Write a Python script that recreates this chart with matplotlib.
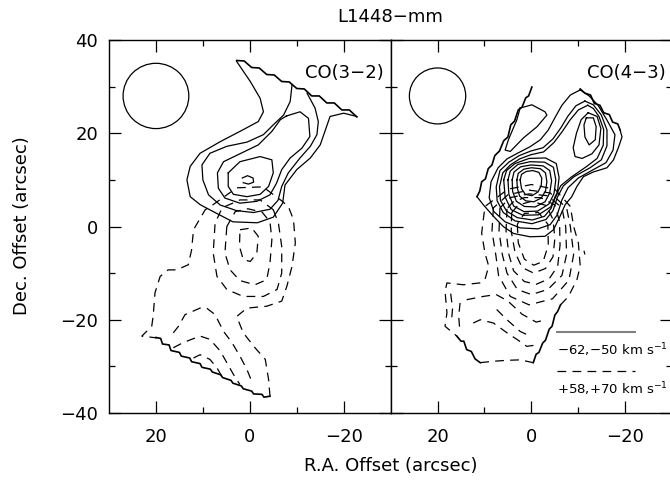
import matplotlib
matplotlib.use("Agg")
import matplotlib.pyplot as plt
from matplotlib.patches import Circle

# contour paths, (RA offset, Dec offset) in arcsec
# ---- CO(3-2), blue lobe (solid)
l_solid = [
    [(2.8, 35.4), (-0.1, 31.1), (-2.2, 27.5), (-2.9, 24.6), (-1.8, 22.5), (2.1, 20.4), (6.3, 18.2),
     (10.6, 15.7), (12.7, 12.9), (13.4, 10.0), (12.7, 6.4), (10.6, 4.7), (7.8, 3.2), (3.6, 1.0),
     (-1.6, 0.8), (-5.0, 2.0), (-7.0, 5.0), (-7.5, 8.9), (-10.0, 12.2), (-12.9, 14.7), (-15.0, 17.5),
     (-16.0, 20.4), (-17.1, 23.6), (-20.0, 24.3), (-22.8, 23.6)],
    [(-9.0, 30.4), (-8.6, 26.8), (-7.2, 23.9), (-5.0, 21.8), (-2.9, 19.7), (0.6, 18.1), (4.9, 17.2),
     (8.5, 15.7), (10.2, 13.2), (10.0, 10.0), (8.8, 6.8), (6.3, 4.6), (2.8, 3.4), (-0.8, 3.0),
     (-4.3, 3.7), (-6.0, 5.6), (-6.8, 8.6), (-8.2, 11.5), (-10.7, 14.7), (-12.9, 17.2), (-14.3, 19.7),
     (-14.6, 22.5), (-13.9, 25.4), (-12.2, 28.6)],
    [(-7.8, 23.7), (-10.7, 24.6), (-12.5, 23.2), (-12.8, 19.3), (-11.1, 16.8), (-8.6, 14.7), (-6.8, 12.2),
     (-5.7, 9.3), (-4.3, 6.8), (-1.5, 5.4), (2.1, 5.0), (5.3, 6.1), (6.7, 8.2), (6.9, 11.5), (5.6, 13.9),
     (2.1, 15.6), (-1.8, 17.5), (-4.7, 20.4), (-6.5, 22.9), (-7.8, 23.7)],
    [(4.6, 11.5), (2.1, 13.9), (-2.2, 15.0), (-4.7, 14.3), (-5.0, 11.5), (-4.0, 8.6), (-2.2, 6.9),
     (0.6, 6.4), (3.5, 6.9), (4.6, 8.6), (4.6, 11.5)],
    [(1.6, 10.4), (0.5, 10.9), (-0.7, 10.4), (-0.8, 9.5), (0.3, 9.1), (1.4, 9.4)],
]
l_edge = [
    [(2.8, 35.6), (1.2, 35.5), (-0.4, 34.1), (-2.0, 34.0), (-3.6, 32.6), (-5.2, 32.5), (-6.8, 31.1),
     (-8.4, 31.0), (-10.0, 29.6), (-11.6, 29.5), (-13.2, 28.0), (-14.8, 28.0), (-16.4, 26.5),
     (-18.0, 26.5), (-19.6, 25.0), (-21.2, 25.0), (-22.8, 23.5)],
    [(20.0, -23.8), (19.0, -24.0), (18.6, -25.2), (17.2, -25.4), (16.8, -26.6), (15.0, -27.0),
     (14.6, -27.8), (12.8, -28.2), (12.4, -29.0), (10.6, -29.4), (10.2, -30.2), (8.4, -30.6),
     (8.0, -31.2), (6.2, -31.8), (5.8, -32.4), (4.0, -33.0), (3.6, -33.6), (1.8, -34.2),
     (1.4, -34.8), (-0.4, -35.3), (-0.8, -35.9), (-2.6, -36.0), (-3.0, -36.6), (-4.3, -36.4)],
]
# ---- CO(3-2), red lobe (dashed)
l_dashed = [
    [(-4.3, -36.4), (-4.0, -32.8), (-3.3, -28.5), (-1.1, -26.0), (1.4, -22.8), (2.8, -19.3), (0.6, -17.5),
     (-3.6, -17.1), (-6.8, -16.0), (-7.9, -12.8), (-9.0, -8.5), (-9.7, -3.5), (-9.3, 1.5), (-8.2, 4.3),
     (-6.8, 5.5), (-2.8, 8.5), (2.8, 8.3), (7.8, 4.7), (9.5, 3.6), (12.0, -0.7), (12.4, -5.0),
     (13.1, -8.2), (15.6, -9.3), (17.4, -9.3), (19.1, -10.7), (20.2, -14.2), (20.6, -19.3),
     (20.9, -21.4), (23.0, -23.5), (19.8, -23.9)],
    [(-5.0, 3.6), (-6.1, 0.7), (-6.8, -4.3), (-6.8, -10.0), (-5.8, -13.5), (-2.9, -15.0), (1.4, -15.0),
     (4.9, -13.5), (7.0, -10.7), (7.8, -5.7), (7.4, 0.7), (5.9, 4.0), (2.1, 5.7), (-2.2, 5.7), (-5.0, 3.6)],
    [(4.9, 0.0), (5.3, -5.7), (4.2, -9.3), (2.1, -11.6), (-1.1, -12.5), (-3.6, -11.4), (-4.3, -7.8),
     (-4.7, -2.8), (-4.3, 1.0), (-2.6, 3.1), (0.4, 3.8), (3.1, 3.2), (4.9, 0.0)],
    [(2.1, -0.7), (-0.4, -0.3), (-1.8, -2.1), (-1.5, -5.7), (-0.1, -7.5), (1.4, -7.1), (2.2, -4.3),
     (2.1, -0.7)],
    [(16.3, -22.8), (15.2, -21.4), (13.8, -18.9), (10.6, -17.5), (9.2, -17.5), (7.4, -18.9), (5.6, -22.5),
     (3.8, -24.9), (2.1, -27.8), (0.6, -30.7), (-0.4, -33.2)],
    [(16.3, -26.0), (14.2, -24.9), (10.6, -23.5), (8.5, -24.2), (6.3, -26.7), (4.9, -29.2), (3.5, -31.7),
     (2.1, -33.9)],
    [(12.0, -28.2), (10.6, -27.5), (8.5, -28.5), (7.0, -30.3), (6.0, -32.1)],
]

# ---- CO(4-3), blue lobe (solid)
r_solid = [
    # outermost, closed by the map edge
    [(11.6, 6.4), (10.2, 4.6), (8.1, 2.2), (6.0, 0.0), (3.8, -1.5), (0.3, -2.2), (-2.9, -2.1), (-4.7, -0.7),
     (-6.1, 2.2), (-7.2, 4.7), (-8.6, 6.4), (-9.7, 8.6), (-11.1, 10.7), (-13.2, 11.7), (-16.1, 12.6),
     (-17.5, 14.3), (-18.6, 17.1), (-19.3, 19.2), (-18.9, 20.7)],
    # core + NW lobe
    [(-10.4, 29.3), (-8.3, 28.2), (-6.5, 26.0), (-5.1, 23.5), (-3.6, 20.7), (-1.9, 18.6), (0.3, 17.1),
     (2.8, 15.8), (5.2, 14.5), (7.1, 12.6), (8.6, 9.6), (9.0, 6.2), (8.0, 3.2), (5.6, 1.0), (2.4, -0.3),
     (-1.4, -0.5), (-4.0, 0.4), (-5.5, 2.5), (-6.5, 5.7), (-7.8, 8.3), (-10.0, 10.4), (-13.2, 12.2),
     (-15.9, 13.7), (-17.4, 16.4), (-17.8, 19.7), (-16.0, 23.0), (-14.2, 26.0), (-12.3, 28.0), (-10.4, 29.3)],
    [(-11.4, 26.9), (-9.5, 25.9), (-7.8, 23.7), (-6.3, 21.2), (-4.6, 18.8), (-2.5, 16.9), (0.1, 16.2),
     (2.6, 15.2), (4.8, 13.8), (6.7, 12.0), (7.5, 8.5), (7.3, 5.5), (6.0, 3.0), (3.5, 1.2), (-0.1, 0.6),
     (-3.1, 1.5), (-4.6, 3.4), (-5.5, 6.2), (-6.8, 8.7), (-9.1, 10.7), (-12.5, 12.6), (-14.9, 14.3),
     (-16.1, 17.3), (-16.1, 20.7), (-14.9, 23.9), (-13.2, 26.1), (-11.4, 26.9)],
    [(-12.0, 26.0), (-10.0, 25.0), (-8.2, 22.8), (-6.6, 20.4), (-4.8, 18.0), (-2.6, 16.0), (0.1, 15.4),
     (2.5, 14.5), (4.5, 13.2), (6.1, 11.5), (6.8, 8.5), (6.6, 5.6), (5.3, 3.3), (3.0, 1.9), (-0.2, 1.4),
     (-2.8, 2.2), (-4.2, 3.9), (-5.0, 6.3), (-6.3, 8.8), (-8.5, 10.6), (-11.8, 12.9), (-14.0, 14.6),
     (-15.3, 17.4), (-15.4, 20.8), (-14.4, 23.6), (-13.2, 25.3), (-12.0, 26.0)],
    [(-12.1, 24.4), (-14.0, 23.6), (-14.8, 21.0), (-14.4, 17.5), (-12.9, 15.6), (-10.8, 14.6), (-9.3, 15.0),
     (-8.9, 16.9), (-9.6, 20.0), (-10.6, 22.9), (-12.1, 24.4)],
    [(-11.7, 23.3), (-13.2, 23.3), (-13.8, 21.4), (-13.6, 18.6), (-12.3, 17.5), (-11.4, 19.2), (-11.2, 21.8),
     (-11.7, 23.3)],
    # thin loop along the western edge
    [(2.4, 25.4), (-0.1, 26.1), (-2.9, 24.6), (-3.3, 23.9), (-1.2, 21.4), (1.7, 19.0), (4.5, 16.1),
     (5.6, 16.4), (4.9, 18.6), (3.1, 22.9), (2.4, 25.4)],
    # nested peak contours
    [(5.9, 10.0), (5.3, 12.0), (3.5, 13.5), (0.5, 14.6), (-3.0, 14.7), (-5.3, 13.5), (-5.9, 10.5),
     (-5.5, 7.0), (-4.1, 4.2), (-1.5, 2.5), (1.8, 2.4), (4.3, 3.6), (5.6, 6.3), (5.9, 10.0)],
    [(5.0, 10.0), (4.5, 11.9), (2.9, 13.3), (0.3, 13.9), (-2.8, 13.8), (-4.7, 12.7), (-5.2, 10.0),
     (-4.8, 7.0), (-3.7, 4.8), (-1.3, 3.3), (1.6, 3.2), (3.8, 4.4), (4.8, 6.9), (5.0, 10.0)],
    [(4.1, 10.0), (3.7, 11.7), (2.3, 12.8), (0.1, 13.2), (-2.5, 13.0), (-3.9, 12.0), (-4.3, 9.8),
     (-3.9, 7.2), (-2.9, 5.3), (-0.8, 4.2), (1.5, 4.3), (3.2, 5.4), (4.0, 7.5), (4.1, 10.0)],
    [(3.1, 10.0), (2.8, 11.4), (1.6, 12.3), (0.0, 12.6), (-1.9, 12.4), (-3.0, 11.5), (-3.3, 9.6),
     (-3.0, 7.6), (-2.1, 6.1), (-0.5, 5.3), (1.2, 5.5), (2.5, 6.5), (3.0, 8.2), (3.1, 10.0)],
    [(2.4, 10.0), (2.1, 11.2), (1.1, 11.8), (-0.3, 12.0), (-1.6, 11.6), (-2.2, 10.4), (-2.1, 8.8),
     (-1.4, 7.4), (-0.1, 6.6), (1.3, 6.9), (2.1, 8.1), (2.4, 10.0)],
]
r_edge = [
    [(-0.1, 29.9), (0.6, 28.0), (1.2, 27.6), (2.0, 25.6), (2.8, 25.0), (3.6, 22.6), (4.4, 21.8),
     (5.0, 19.2), (5.9, 18.4), (6.8, 16.2), (7.8, 15.2), (8.4, 13.2), (9.2, 12.4), (9.8, 10.2),
     (10.6, 9.6), (11.0, 7.6), (11.6, 6.4)],
    [(-18.9, 20.7), (-18.4, 22.0), (-17.3, 22.4), (-16.6, 24.0), (-15.4, 24.4), (-14.6, 26.0),
     (-13.4, 26.4), (-12.6, 28.2), (-11.4, 28.6), (-10.4, 29.5)],
    [(15.9, -23.5), (15.0, -24.6), (14.4, -24.6), (13.8, -26.4), (12.8, -26.8), (12.0, -28.4), (10.9, -29.2)],
    [(-0.4, -29.2), (-1.0, -27.4), (-1.6, -27.0), (-2.4, -25.0), (-3.0, -24.4), (-3.8, -22.0),
     (-4.4, -21.4), (-5.0, -19.0), (-5.6, -18.2), (-6.2, -16.8)],
]
# ---- CO(4-3), red lobe (dashed)
r_dashed = [
    [(-6.2, -16.8), (-7.9, -15.0), (-9.7, -11.4), (-10.4, -8.5), (-10.0, -3.5), (-9.0, 0.0), (-8.3, 4.3),
     (-5.0, 8.0), (0.0, 9.0), (5.0, 8.0), (9.9, 4.3), (10.6, -1.4), (9.9, -5.7), (9.1, -8.5),
     (9.9, -11.4), (11.0, -12.1), (14.5, -12.5), (18.0, -12.1), (18.4, -13.9), (18.0, -18.5),
     (18.4, -21.4), (15.9, -23.5)],
    [(10.9, -29.2), (8.1, -28.9), (5.2, -28.7), (2.4, -28.6), (-0.4, -29.2)],
    [(8.1, 4.0), (8.4, -1.0), (7.6, -6.0), (7.0, -10.5), (4.5, -15.0), (0.5, -16.8), (-4.5, -15.5),
     (-8.0, -11.5), (-9.0, -6.0), (-8.3, 0.0), (-7.5, 4.0), (-4.0, 7.2), (0.5, 7.8), (5.0, 6.8), (8.1, 4.0)],
    [(6.7, 4.0), (6.9, -1.0), (6.2, -6.0), (5.2, -10.0), (3.0, -13.5), (0.0, -14.6), (-3.5, -13.5),
     (-6.5, -10.5), (-7.5, -6.0), (-7.3, 0.0), (-6.5, 4.0), (-3.5, 6.6), (0.5, 7.0), (4.5, 6.2), (6.7, 4.0)],
    [(5.2, 3.8), (5.4, -1.0), (4.8, -6.0), (3.8, -9.5), (1.5, -11.8), (-1.0, -12.4), (-3.8, -11.2),
     (-5.6, -8.5), (-6.1, -4.0), (-6.0, 1.0), (-5.0, 4.6), (-2.0, 6.2), (1.5, 6.2), (4.0, 5.2), (5.2, 3.8)],
    [(4.2, 3.0), (4.3, -1.0), (3.5, -5.5), (2.0, -8.8), (-0.5, -10.0), (-3.0, -9.0), (-4.6, -6.5),
     (-5.0, -2.5), (-4.6, 1.5), (-3.2, 4.5), (0.0, 5.4), (2.8, 4.6), (4.2, 3.0)],
    [(3.0, 0.5), (2.8, -3.5), (1.5, -7.0), (-0.5, -8.3), (-2.5, -7.5), (-3.6, -4.0), (-3.5, 0.5),
     (-1.5, 3.0), (1.5, 2.8), (3.0, 0.5)],
    [(17.2, -14.4), (16.8, -17.5), (17.0, -20.0)],
    [(15.2, -16.4), (15.5, -19.3), (15.2, -22.8)],
    [(13.8, -15.7), (10.3, -15.0), (7.5, -14.6), (5.0, -16.0), (2.0, -18.8), (-1.0, -20.5), (-3.2, -20.0)],
    [(12.4, -20.7), (10.9, -20.0), (8.1, -20.7), (5.2, -22.8), (3.1, -24.2), (1.0, -25.7), (-0.5, -25.5)],
    [(7.4, -17.8), (5.2, -20.0), (2.4, -22.5), (0.3, -23.5)],
    [(-11.2, -5.2), (-11.4, -6.0)],
]

vel_labels = ['\u221262,\u221250 km s$^{-1}$', '+58,+70 km s$^{-1}$']
line_names = ['CO(3\u22122)', 'CO(4\u22123)']
beam_radius = [7.0, 6.0]

plt.rcParams['font.family'] = 'DejaVu Sans'
fig = plt.figure(figsize=(6.7, 4.83), dpi=100)
ax1 = fig.add_axes([0.1627, 0.1449, 0.4203, 0.7723])
ax2 = fig.add_axes([0.5830, 0.1449, 0.4203, 0.7723])

dash = (0, (7, 5))
for ax, solid, dashed, edges, name, rb in [(ax1, l_solid, l_dashed, l_edge, line_names[0], beam_radius[0]),
                                          (ax2, r_solid, r_dashed, r_edge, line_names[1], beam_radius[1])]:
    for c in solid:
        ax.plot([p[0] for p in c], [p[1] for p in c], color='k', lw=0.9)
    for c in dashed:
        ax.plot([p[0] for p in c], [p[1] for p in c], color='k', lw=0.9, linestyle=dash)
    for c in edges:
        ax.plot([p[0] for p in c], [p[1] for p in c], color='k', lw=1.2)
    ax.add_patch(Circle((20, 28), rb, fill=False, lw=0.9, color='k'))
    ax.text(-28.6, 33.0, name, ha='right', va='center', fontsize=13)
    ax.set_xlim(30, -30)
    ax.set_ylim(-40, 40)
    ax.set_xticks([20, 0, -20])
    ax.set_xticks([10, -10], minor=True)
    ax.set_yticks([40, 20, 0, -20, -40])
    ax.set_yticks([30, 10, -10, -30], minor=True)
    ax.tick_params(which='both', direction='in', top=True, right=True, labelsize=13, width=0.9)
    ax.tick_params(which='major', length=8.8)
    ax.tick_params(which='minor', length=4.3)
    ax.tick_params(axis='x', pad=11)
    ax.tick_params(axis='y', pad=8)
    for s in ax.spines.values():
        s.set_linewidth(1.0)

ax2.set_yticklabels([])
ax1.set_yticklabels(['\u221240', '\u221220', '0', '20', '40'][::-1])
for ax in (ax1, ax2):
    ax.set_xticklabels(['20', '0', '\u221220'])

# velocity key in the CO(4-3) panel
ax2.plot([-5.5, -22.1], [-22.7, -22.7], color='0.5', lw=1.5)
ax2.text(-5.5, -26.6, vel_labels[0], ha='left', va='center', fontsize=9.5)
ax2.plot([-5.5, -22.1], [-30.9, -30.9], color='k', lw=0.9, linestyle=dash)
ax2.text(-5.5, -34.9, vel_labels[1], ha='left', va='center', fontsize=9.5)

fig.text(0.583, 1 - 17 / 483, 'L1448\u2212mm', ha='center', va='center', fontsize=13)
fig.text(0.583, 1 - 466 / 483, 'R.A. Offset (arcsec)', ha='center', va='center', fontsize=13)
fig.text(22 / 670, 0.532, 'Dec. Offset (arcsec)', ha='center', va='center', rotation=90, fontsize=13)

fig.savefig('out.png', dpi=100)
